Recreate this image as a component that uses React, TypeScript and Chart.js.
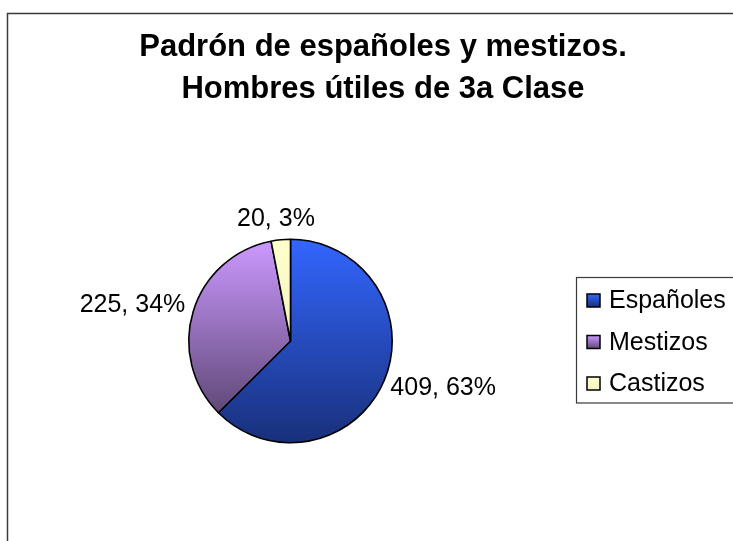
import React, { useEffect, useRef } from "react";
import { Chart, registerables } from "chart.js";

Chart.register(...registerables);

const titleLines = ["Padrón de españoles y mestizos.", "Hombres útiles de 3a Clase"];
const categories = ["Españoles", "Mestizos", "Castizos"];
const values = [409, 225, 20];
const topColors = ["#3366FF", "#CC99FF", "#FFFFCC"];
const bottomColors = ["#18307A", "#604878", "#F4F4C2"];

const FONT = "'Liberation Sans', Arial, sans-serif";

function sliceExtent(i: number, cx: number, cy: number, r: number) {
  const total = values.reduce((a, b) => a + b, 0);
  let start = 0;
  for (let k = 0; k < i; k++) start += values[k];
  const a0 = (start / total) * Math.PI * 2;
  const a1 = ((start + values[i]) / total) * Math.PI * 2;
  const ys = [cy, cy - r * Math.cos(a0), cy - r * Math.cos(a1)];
  if (a0 <= 0.0001) ys.push(cy - r);
  if (a0 <= Math.PI && a1 >= Math.PI) ys.push(cy + r);
  return { minY: Math.min(...ys), maxY: Math.max(...ys) };
}

function sliceFill(context: any) {
  const i = context.dataIndex ?? 0;
  const chart = context.chart;
  const area = chart.chartArea;
  if (!area) return topColors[i];
  const cx = (area.left + area.right) / 2;
  const cy = (area.top + area.bottom) / 2;
  const r = Math.min(area.width, area.height) / 2;
  const { minY, maxY } = sliceExtent(i, cx, cy, r);
  const g = chart.ctx.createLinearGradient(0, minY, 0, maxY);
  g.addColorStop(0, topColors[i]);
  g.addColorStop(1, bottomColors[i]);
  return g;
}

const decorPlugin = {
  id: "decor",
  beforeDraw(chart: any) {
    const ctx = chart.ctx;
    ctx.save();
    ctx.fillStyle = "#ffffff";
    ctx.fillRect(0, 0, chart.width, chart.height);
    ctx.strokeStyle = "#3a3a3a";
    ctx.lineWidth = 1.5;
    ctx.strokeRect(7.5, 13.5, chart.width + 50, chart.height + 50);
    ctx.restore();
  },
  afterDraw(chart: any) {
    const ctx = chart.ctx;
    const area = chart.chartArea;
    const cx = (area.left + area.right) / 2;
    const cy = (area.top + area.bottom) / 2;
    const r = Math.min(area.width, area.height) / 2;
    ctx.save();
    // Title
    ctx.fillStyle = "#000";
    ctx.font = `bold 31px ${FONT}`;
    ctx.textAlign = "center";
    ctx.textBaseline = "alphabetic";
    titleLines.forEach((t, k) => ctx.fillText(t, 383, 56 + k * 42));

    // Data labels
    const total = values.reduce((a, b) => a + b, 0);
    ctx.font = `25px ${FONT}`;
    ctx.textAlign = "center";
    ctx.textBaseline = "middle";
    let acc = 0;
    values.forEach((v, i) => {
      const mid = ((acc + v / 2) / total) * Math.PI * 2 - Math.PI / 2;
      acc += v;
      const text = `${v}, ${Math.round((v / total) * 100)}%`;
      const w = ctx.measureText(text).width;
      const h = 20;
      const c = Math.cos(mid);
      const s = Math.sin(mid);
      const px = cx + (r + 10) * c + c * (w / 2);
      const py = cy + (r + 10) * s + s * (h / 2);
      ctx.fillText(text, px, py);
    });

    // Legend
    const lx = 576.5;
    const ly = 277.5;
    ctx.strokeStyle = "#3a3a3a";
    ctx.lineWidth = 1.2;
    ctx.strokeRect(lx, ly, 300, 125.5);
    ctx.font = `25px ${FONT}`;
    ctx.textAlign = "left";
    ctx.textBaseline = "middle";
    categories.forEach((name, i) => {
      const yc = ly + 23 + i * 41.5;
      const mx = 587;
      const size = 13;
      const g = ctx.createLinearGradient(0, yc - size / 2, 0, yc + size / 2);
      g.addColorStop(0, topColors[i]);
      g.addColorStop(1, bottomColors[i]);
      ctx.fillStyle = g;
      ctx.fillRect(mx, yc - size / 2, size, size);
      ctx.strokeStyle = "#000";
      ctx.lineWidth = 1.5;
      ctx.strokeRect(mx, yc - size / 2, size, size);
      ctx.fillStyle = "#000";
      ctx.fillText(name, 609, yc + 1);
    });
    ctx.restore();
  },
};

export default function App() {
  const ref = useRef<HTMLCanvasElement | null>(null);
  useEffect(() => {
    if (!ref.current) return;
    const chart = new Chart(ref.current, {
      type: "pie",
      data: {
        labels: categories,
        datasets: [
          {
            data: values,
            backgroundColor: sliceFill as any,
            borderColor: "#000",
            borderWidth: 1.6,
          },
        ],
      },
      options: {
        responsive: false,
        animation: false,
        devicePixelRatio: 1,
        layout: { padding: { left: 188, right: 340, top: 238, bottom: 97 } },
        plugins: {
          legend: { display: false },
          title: { display: false },
          tooltip: { enabled: false },
        },
      },
      plugins: [decorPlugin],
    });
    return () => chart.destroy();
  }, []);
  return (
    <div style={{ position: "absolute", left: 0, top: 0, width: 733, height: 541 }}>
      <canvas ref={ref} width={733} height={541} style={{ display: "block" }} />
    </div>
  );
}
